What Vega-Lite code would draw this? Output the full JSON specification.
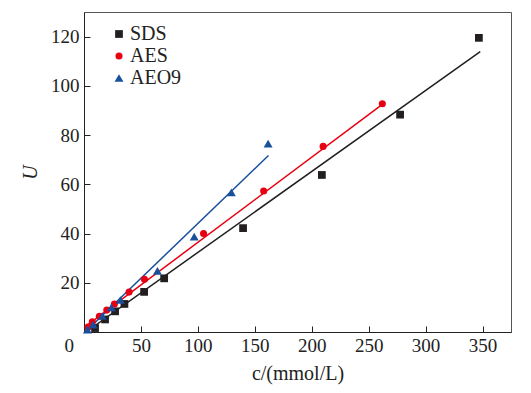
{
  "$schema": "https://vega.github.io/schema/vega-lite/v6.json",
  "width": 427,
  "height": 320,
  "autosize": {"type": "none"},
  "padding": {"left": 84, "top": 12, "right": 20, "bottom": 61},
  "background": "white",
  "config": {
    "view": {"stroke": "#555", "strokeWidth": 1},
    "font": "Liberation Serif",
    "axis": {
      "domainColor": "#222",
      "tickColor": "#222",
      "labelColor": "#222",
      "titleColor": "#222",
      "labelFont": "Liberation Serif",
      "titleFont": "Liberation Serif",
      "labelFontSize": 19,
      "titleFontSize": 20,
      "titleFontWeight": "normal",
      "grid": false
    }
  },
  "datasets": {
    "pts": [
      {"s": "SDS", "c": 9.7, "U": 1.6},
      {"s": "SDS", "c": 18.5, "U": 5.1},
      {"s": "SDS", "c": 27.3, "U": 8.4},
      {"s": "SDS", "c": 35.5, "U": 11.4},
      {"s": "SDS", "c": 52.8, "U": 16.3},
      {"s": "SDS", "c": 70.4, "U": 21.8},
      {"s": "SDS", "c": 139.7, "U": 42.2},
      {"s": "SDS", "c": 208.9, "U": 63.8},
      {"s": "SDS", "c": 277.6, "U": 88.3},
      {"s": "SDS", "c": 346.8, "U": 119.5},
      {"s": "AES", "c": 3.5, "U": 2.0},
      {"s": "AES", "c": 7.3, "U": 4.1},
      {"s": "AES", "c": 13.5, "U": 6.4},
      {"s": "AES", "c": 20.0, "U": 8.9},
      {"s": "AES", "c": 26.7, "U": 11.4},
      {"s": "AES", "c": 39.6, "U": 16.2},
      {"s": "AES", "c": 53.1, "U": 21.4},
      {"s": "AES", "c": 105.0, "U": 40.0},
      {"s": "AES", "c": 157.8, "U": 57.3},
      {"s": "AES", "c": 210.0, "U": 75.4},
      {"s": "AES", "c": 262.0, "U": 92.7},
      {"s": "AEO9", "c": 3.0, "U": 1.0},
      {"s": "AEO9", "c": 8.0, "U": 3.0},
      {"s": "AEO9", "c": 16.0, "U": 6.5},
      {"s": "AEO9", "c": 24.0, "U": 10.0},
      {"s": "AEO9", "c": 32.0, "U": 13.0},
      {"s": "AEO9", "c": 64.5, "U": 24.8},
      {"s": "AEO9", "c": 96.8, "U": 38.7},
      {"s": "AEO9", "c": 129.4, "U": 56.7},
      {"s": "AEO9", "c": 161.7, "U": 76.5}
    ],
    "fits": [
      {"s": "SDS", "c": 2, "U": 0.1},
      {"s": "SDS", "c": 348, "U": 113.9},
      {"s": "AES", "c": 2, "U": 2.5},
      {"s": "AES", "c": 262, "U": 92.5},
      {"s": "AEO9", "c": 1, "U": 0.0},
      {"s": "AEO9", "c": 162, "U": 71.7}
    ]
  },
  "layer": [
    {
      "data": {"name": "fits"},
      "mark": {"type": "line", "strokeWidth": 1.5, "clip": true},
      "encoding": {
        "x": {"field": "c", "type": "quantitative", "scale": {"domain": [0, 375], "nice": false, "zero": false}},
        "y": {"field": "U", "type": "quantitative", "scale": {"domain": [0, 130], "nice": false}},
        "detail": {"field": "s"},
        "stroke": {"field": "s", "type": "nominal", "scale": {"domain": ["AES", "AEO9", "SDS"], "range": ["#e60012", "#1a4f9c", "#231f20"]}, "legend": null}
      }
    },
    {
      "data": {"name": "pts"},
      "mark": {"type": "point", "filled": true, "opacity": 1},
      "encoding": {
        "x": {
          "field": "c", "type": "quantitative",
          "title": "c/(mmol/L)",
          "axis": {
            "values": [0, 50, 100, 150, 200, 250, 300, 350],
            "tickSize": -6,
            "labelPadding": 10,
            "titlePadding": 8,
            "labelOffset": {"condition": {"test": "datum.value == 0", "value": -20}, "value": 0}
          }
        },
        "y": {
          "field": "U", "type": "quantitative",
          "title": "U",
          "axis": {
            "values": [20, 40, 60, 80, 100, 120],
            "tickSize": -6,
            "labelPadding": 11,
            "titlePadding": 10,
            "titleFontStyle": "italic"
          }
        },
        "color": {
          "field": "s", "type": "nominal",
          "scale": {"domain": ["SDS", "AES", "AEO9"], "range": ["#231f20", "#e60012", "#1a4f9c"]},
          "legend": {
            "orient": "none",
            "legendX": 25,
            "legendY": 12,
            "title": null,
            "labelFont": "Liberation Serif",
            "labelFontSize": 20,
            "labelColor": "#222",
            "labelOffset": 1,
            "rowPadding": 2,
            "padding": 0
          }
        },
        "shape": {
          "field": "s", "type": "nominal",
          "scale": {"domain": ["SDS", "AES", "AEO9"], "range": ["square", "circle", "triangle-up"]}
        },
        "size": {
          "field": "s", "type": "nominal",
          "scale": {"type": "ordinal", "domain": ["SDS", "AES", "AEO9"], "range": [60, 50, 80]}
        }
      }
    }
  ]
}
